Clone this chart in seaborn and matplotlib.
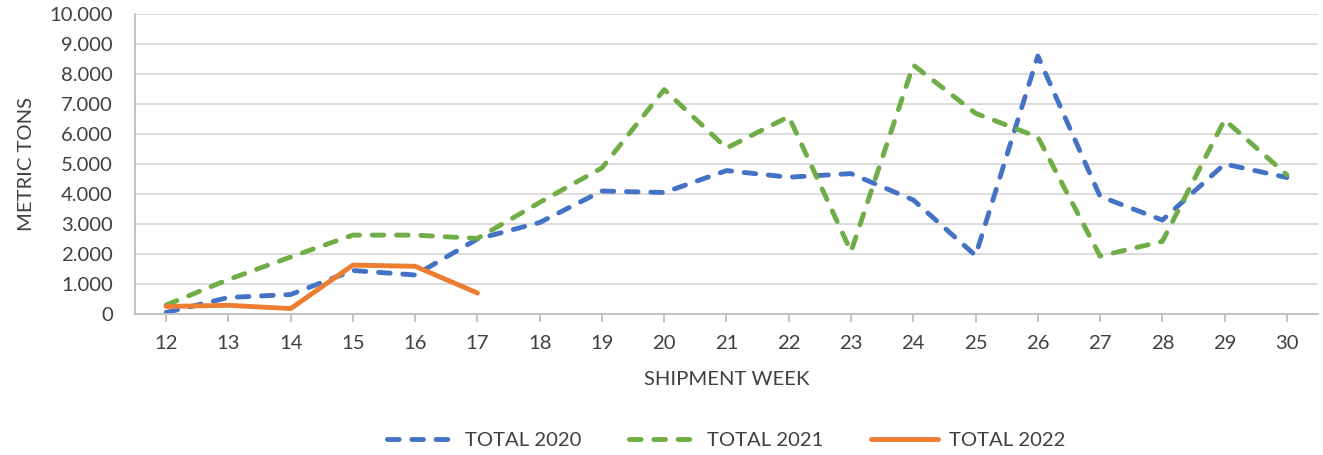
import matplotlib
matplotlib.use("Agg")
import matplotlib.pyplot as plt
import seaborn as sns
import pandas as pd
import numpy as np
from matplotlib.ticker import FuncFormatter, MultipleLocator

# ---- data ----
weeks = list(range(12, 31))
total_2020 = [50, 550, 650, 1450, 1300, 2500, 3050, 4100, 4050, 4780, 4560, 4680,
              3800, 1950, 8600, 3920, 3130, 5000, 4550]
total_2021 = [300, 1150, 1900, 2630, 2630, 2520, 3720, 4870, 7480, 5530, 6580, 2080,
              8300, 6690, 5900, 1930, 2420, 6470, 4640]
weeks_2022 = list(range(12, 18))
total_2022 = [250, 290, 180, 1630, 1590, 700]
series_labels = ["TOTAL 2020", "TOTAL 2021", "TOTAL 2022"]
x_label = "SHIPMENT WEEK"
y_label = "METRIC TONS"

sns.set_theme(style="white")
plt.rcParams['font.family'] = ['Lato', 'DejaVu Sans']
text_color = "#404040"
fs = 14.6

fig = plt.figure(figsize=(13.23, 4.55), dpi=100)
ax = fig.add_axes([135 / 1323, 1 - 314 / 455, (1318 - 135) / 1323, 300 / 455])

blue, green, orange = "#4472C4", "#70AD47", "#ED7D31"
dash = (0, (2.4, 2.6))

sns.lineplot(x=weeks, y=total_2020, ax=ax, color=blue, linewidth=3.5,
             linestyle=dash, dash_capstyle="round", label=series_labels[0])
sns.lineplot(x=weeks, y=total_2021, ax=ax, color=green, linewidth=3.5,
             linestyle=dash, dash_capstyle="round", label=series_labels[1])
sns.lineplot(x=weeks_2022, y=total_2022, ax=ax, color=orange, linewidth=3.5,
             solid_capstyle="round", label=series_labels[2])

ax.set_xlim(11.5, 30.5)
ax.set_ylim(0, 10000)
ax.set_xticks(weeks)
ax.yaxis.set_major_locator(MultipleLocator(1000))
ax.yaxis.set_major_formatter(FuncFormatter(lambda v, p: f"{int(v):,}".replace(",", ".")))

ax.grid(axis="y", color="#d9d9d9", linewidth=1.3)
ax.set_axisbelow(True)
for s in ["top", "right"]:
    ax.spines[s].set_visible(False)
for s in ["left", "bottom"]:
    ax.spines[s].set_color("#bfbfbf")
    ax.spines[s].set_linewidth(1.3)

ax.tick_params(axis="x", which="major", direction="out", length=6, width=1.3,
               color="#bfbfbf", labelsize=fs, labelcolor=text_color, pad=9, bottom=True)
ax.tick_params(axis="y", length=0, labelsize=fs, labelcolor=text_color, pad=16)

ax.set_xlabel(x_label, fontsize=fs, color=text_color, labelpad=14)
ax.set_ylabel(y_label, fontsize=fs, color=text_color, labelpad=10)

handles, labels = ax.get_legend_handles_labels()
leg = ax.legend(handles, labels, loc="center", bbox_to_anchor=(0.5, -0.42),
                ncol=3, frameon=False, fontsize=fs, handlelength=3.3,
                handletextpad=0.55, columnspacing=2.35, labelcolor=text_color)

fig.savefig("out.png", dpi=100)
